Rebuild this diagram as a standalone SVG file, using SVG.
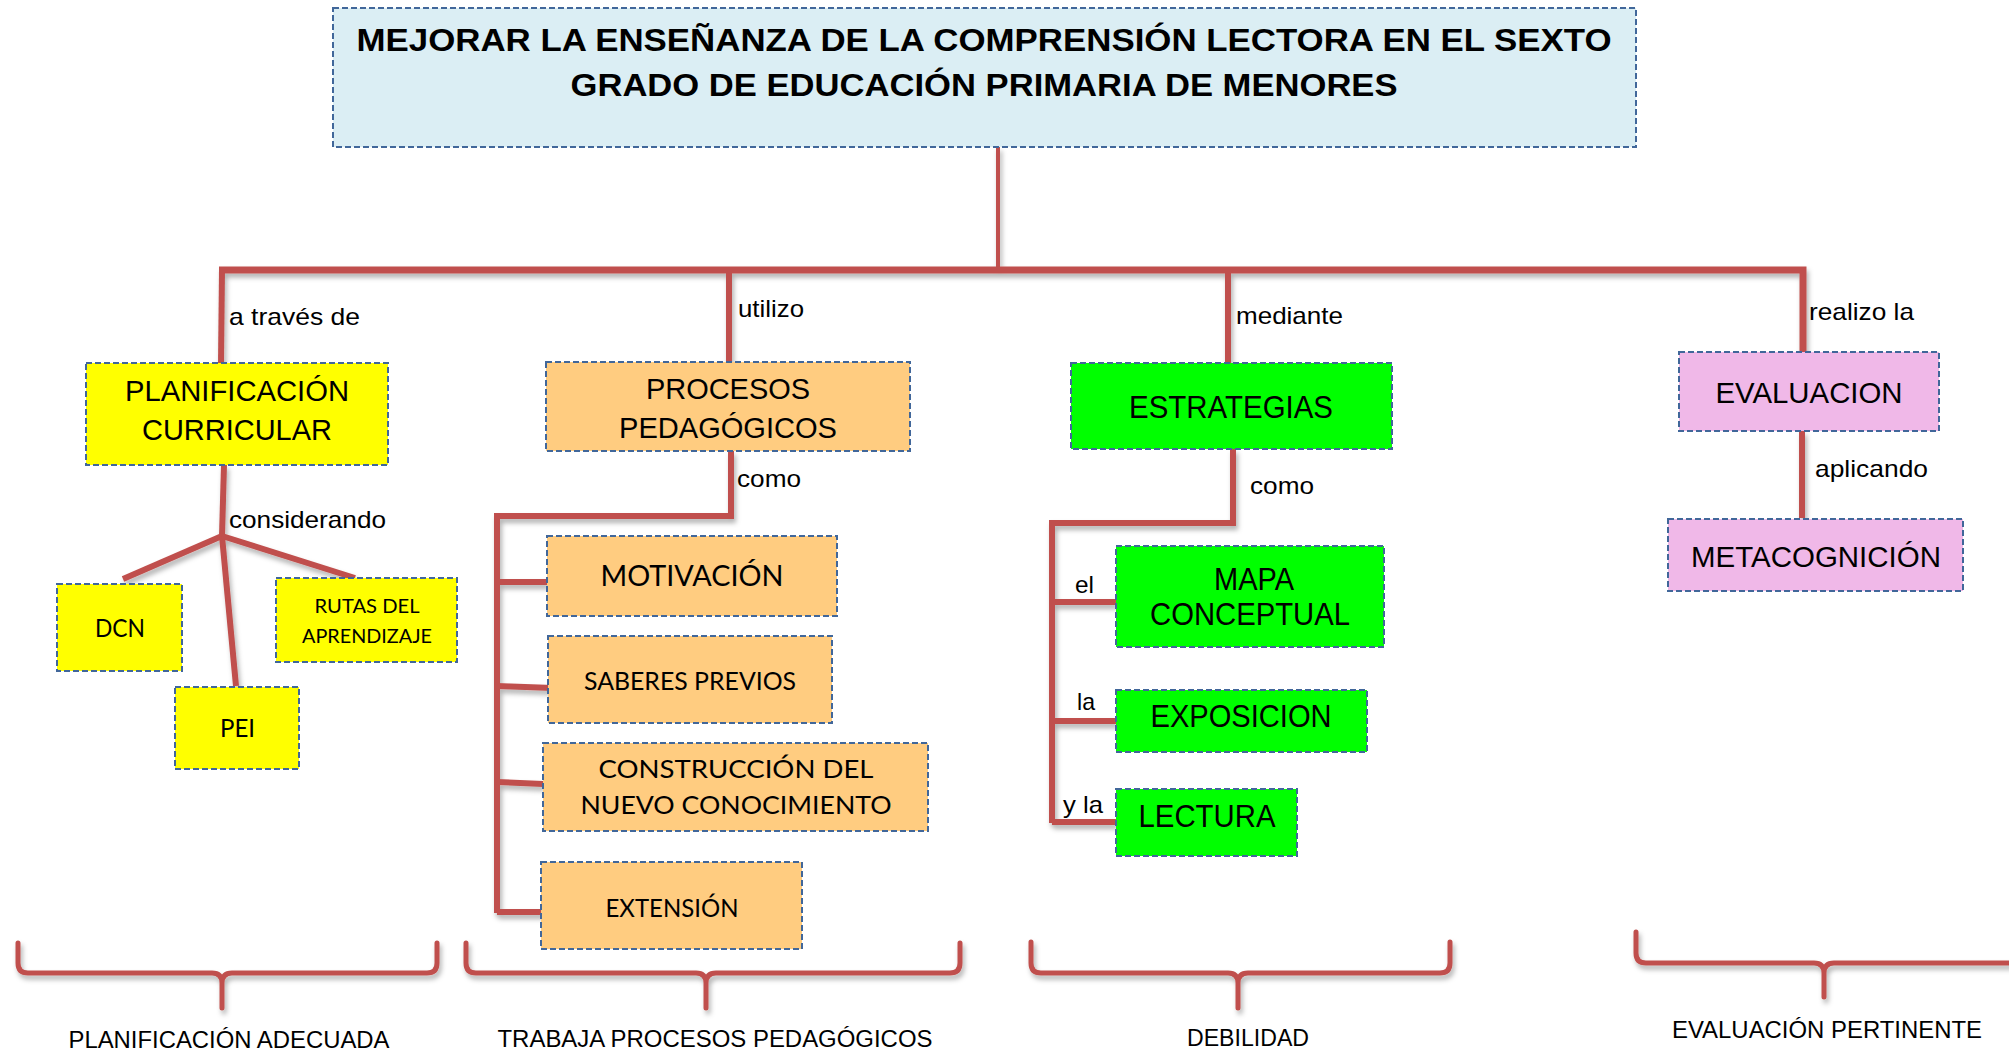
<svg xmlns="http://www.w3.org/2000/svg" width="2009" height="1051" viewBox="0 0 2009 1051">
<defs>
<filter id="sh" x="-10%" y="-10%" width="120%" height="130%">
<feDropShadow dx="2" dy="4" stdDeviation="2.5" flood-color="#000" flood-opacity="0.3"/>
</filter>
<style>
.box{stroke:#41679A;stroke-width:2;stroke-dasharray:6 3}
.t{fill:#DBEEF4}.y{fill:#FFFF00}.o{fill:#FFCC80}.g{fill:#00FF00}.p{fill:#F0B8E8}
.ar{font-family:"Liberation Sans",Arial,sans-serif;font-size:30px;fill:#000;text-anchor:middle}
.ag{font-family:"Liberation Sans",Arial,sans-serif;font-size:32px;fill:#000;text-anchor:middle}
.ca{font-family:Lato,"Liberation Sans",sans-serif;fill:#000;text-anchor:middle}
.ttl{font-family:"Liberation Sans",Arial,sans-serif;font-size:32px;font-weight:bold;fill:#000;text-anchor:middle}
.lb{font-family:"Liberation Sans",Arial,sans-serif;font-size:24px;fill:#000}
.bl{font-family:"Liberation Sans",Arial,sans-serif;font-size:23px;fill:#000;text-anchor:middle}
.c{fill:none;stroke:#C0504D;stroke-width:6;stroke-linejoin:miter;stroke-linecap:butt}
.br{fill:none;stroke:#C0504D;stroke-width:5;stroke-linecap:round;stroke-linejoin:round}
</style>
</defs>
<rect width="2009" height="1051" fill="#fff"/>

<g id="connectors" filter="url(#sh)">
<path class="c" d="M998,147 V270" style="stroke-width:4"/>
<path class="c" d="M219,270 H1803 V352" style="stroke-width:7"/>
<path class="c" d="M222,270 L221,363"/>
<path class="c" d="M729,270 V362"/>
<path class="c" d="M1228,270 V363"/>
<path class="c" d="M224,465 L222,536"/>
<path class="c" d="M222,536 L123,579"/>
<path class="c" d="M222,536 L236,686"/>
<path class="c" d="M222,536 L355,578"/>
<path class="c" d="M731,451 V516 H497 V913"/>
<path class="c" d="M497,582 H547"/>
<path class="c" d="M497,686 L553,688"/>
<path class="c" d="M497,782 L543,784"/>
<path class="c" d="M497,912 H551"/>
<path class="c" d="M1233,449 V523 H1052 V823"/>
<path class="c" d="M1052,602 H1116"/>
<path class="c" d="M1052,721 H1116"/>
<path class="c" d="M1052,822 H1116"/>
<path class="c" d="M1802,431 V518"/>
</g>

<g id="labels">
<text class="lb" x="229" y="325" textLength="131" lengthAdjust="spacingAndGlyphs">a través de</text>
<text class="lb" x="229" y="528" textLength="157" lengthAdjust="spacingAndGlyphs">considerando</text>
<text class="lb" x="738" y="317" textLength="66" lengthAdjust="spacingAndGlyphs">utilizo</text>
<text class="lb" x="737" y="487" textLength="64" lengthAdjust="spacingAndGlyphs">como</text>
<text class="lb" x="1236" y="324" textLength="107" lengthAdjust="spacingAndGlyphs">mediante</text>
<text class="lb" x="1250" y="494" textLength="64" lengthAdjust="spacingAndGlyphs">como</text>
<text class="lb" x="1075" y="593" textLength="19" lengthAdjust="spacingAndGlyphs">el</text>
<text class="lb" x="1077" y="710" textLength="18" lengthAdjust="spacingAndGlyphs">la</text>
<text class="lb" x="1063" y="813" textLength="40" lengthAdjust="spacingAndGlyphs">y la</text>
<text class="lb" x="1809" y="320" textLength="105" lengthAdjust="spacingAndGlyphs">realizo la</text>
<text class="lb" x="1815" y="477" textLength="113" lengthAdjust="spacingAndGlyphs">aplicando</text>
</g>

<g id="title">
<rect class="box t" x="333" y="8" width="1303" height="139"/>
<text class="ttl" x="984" y="51" textLength="1255" lengthAdjust="spacingAndGlyphs">MEJORAR LA ENSEÑANZA DE LA COMPRENSIÓN LECTORA EN EL SEXTO</text>
<text class="ttl" x="984" y="96" textLength="827" lengthAdjust="spacingAndGlyphs">GRADO DE EDUCACIÓN PRIMARIA DE MENORES</text>
</g>

<g id="planificacion">
<rect class="box y" x="86" y="363" width="302" height="102"/>
<text class="ar" x="237" y="401" textLength="224" lengthAdjust="spacingAndGlyphs">PLANIFICACIÓN</text>
<text class="ar" x="237" y="440" textLength="190" lengthAdjust="spacingAndGlyphs">CURRICULAR</text>
</g>
<g id="dcn">
<rect class="box y" x="57" y="584" width="125" height="87"/>
<text class="ca" x="120" y="637" font-size="25" textLength="50" lengthAdjust="spacingAndGlyphs">DCN</text>
</g>
<g id="pei">
<rect class="box y" x="175" y="687" width="124" height="82"/>
<text class="ca" x="237.5" y="737" font-size="25" textLength="35" lengthAdjust="spacingAndGlyphs">PEI</text>
</g>
<g id="rutas">
<rect class="box y" x="276" y="578" width="181" height="84"/>
<text class="ca" x="367" y="613" font-size="19" textLength="105" lengthAdjust="spacingAndGlyphs">RUTAS DEL</text>
<text class="ca" x="367" y="643" font-size="19" textLength="130" lengthAdjust="spacingAndGlyphs">APRENDIZAJE</text>
</g>

<g id="procesos">
<rect class="box o" x="546" y="362" width="364" height="89"/>
<text class="ar" x="728" y="399" textLength="164" lengthAdjust="spacingAndGlyphs">PROCESOS</text>
<text class="ar" x="728" y="438" textLength="218" lengthAdjust="spacingAndGlyphs">PEDAGÓGICOS</text>
</g>
<g id="motivacion">
<rect class="box o" x="547" y="536" width="290" height="80"/>
<text class="ca" x="692" y="586" font-size="28" textLength="183" lengthAdjust="spacingAndGlyphs">MOTIVACIÓN</text>
</g>
<g id="saberes">
<rect class="box o" x="548" y="636" width="284" height="87"/>
<text class="ca" x="690" y="690" font-size="25" textLength="212" lengthAdjust="spacingAndGlyphs">SABERES PREVIOS</text>
</g>
<g id="construccion">
<rect class="box o" x="543" y="743" width="385" height="88"/>
<text class="ca" x="736" y="778" font-size="25" textLength="275" lengthAdjust="spacingAndGlyphs">CONSTRUCCIÓN DEL</text>
<text class="ca" x="736" y="814" font-size="25" textLength="311" lengthAdjust="spacingAndGlyphs">NUEVO CONOCIMIENTO</text>
</g>
<g id="extension">
<rect class="box o" x="541" y="862" width="261" height="87"/>
<text class="ca" x="672" y="917" font-size="25" textLength="133" lengthAdjust="spacingAndGlyphs">EXTENSIÓN</text>
</g>

<g id="estrategias">
<rect class="box g" x="1071" y="363" width="321" height="86"/>
<text class="ag" x="1231" y="418" textLength="204" lengthAdjust="spacingAndGlyphs">ESTRATEGIAS</text>
</g>
<g id="mapa">
<rect class="box g" x="1116" y="546" width="268" height="101"/>
<text class="ag" x="1254" y="590" textLength="80" lengthAdjust="spacingAndGlyphs">MAPA</text>
<text class="ag" x="1250" y="625" textLength="200" lengthAdjust="spacingAndGlyphs">CONCEPTUAL</text>
</g>
<g id="exposicion">
<rect class="box g" x="1116" y="690" width="251" height="62"/>
<text class="ag" x="1241" y="727" textLength="181" lengthAdjust="spacingAndGlyphs">EXPOSICION</text>
</g>
<g id="lectura">
<rect class="box g" x="1116" y="789" width="181" height="67"/>
<text class="ag" x="1207" y="827" textLength="137" lengthAdjust="spacingAndGlyphs">LECTURA</text>
</g>

<g id="evaluacion">
<rect class="box p" x="1679" y="352" width="260" height="79"/>
<text class="ar" x="1809" y="403" textLength="187" lengthAdjust="spacingAndGlyphs">EVALUACION</text>
</g>
<g id="metacognicion">
<rect class="box p" x="1668" y="519" width="295" height="72"/>
<text class="ar" x="1816" y="567" textLength="250" lengthAdjust="spacingAndGlyphs">METACOGNICIÓN</text>
</g>

<g id="brackets" filter="url(#sh)">
<path class="br" d="M18,943 V963 Q18,973 28,973 H212 Q222,973 222,983 V1008 M222,983 Q222,973 232,973 H427 Q437,973 437,963 V943"/>
<path class="br" d="M466,943 V963 Q466,973 476,973 H696 Q706,973 706,983 V1008 M706,983 Q706,973 716,973 H950 Q960,973 960,963 V943"/>
<path class="br" d="M1031,942 V963 Q1031,973 1041,973 H1228 Q1238,973 1238,983 V1008 M1238,983 Q1238,973 1248,973 H1440 Q1450,973 1450,963 V942"/>
<path class="br" d="M1636,932 V953 Q1636,963 1646,963 H1814 Q1824,963 1824,973 V997 M1824,973 Q1824,963 1834,963 H2015"/>
</g>

<g id="bracket-labels">
<text class="bl" x="229" y="1048" textLength="321" lengthAdjust="spacingAndGlyphs">PLANIFICACIÓN ADECUADA</text>
<text class="bl" x="715" y="1047" textLength="435" lengthAdjust="spacingAndGlyphs">TRABAJA PROCESOS PEDAGÓGICOS</text>
<text class="bl" x="1248" y="1046" textLength="122" lengthAdjust="spacingAndGlyphs">DEBILIDAD</text>
<text class="bl" x="1827" y="1038" textLength="310" lengthAdjust="spacingAndGlyphs">EVALUACIÓN PERTINENTE</text>
</g>
</svg>
